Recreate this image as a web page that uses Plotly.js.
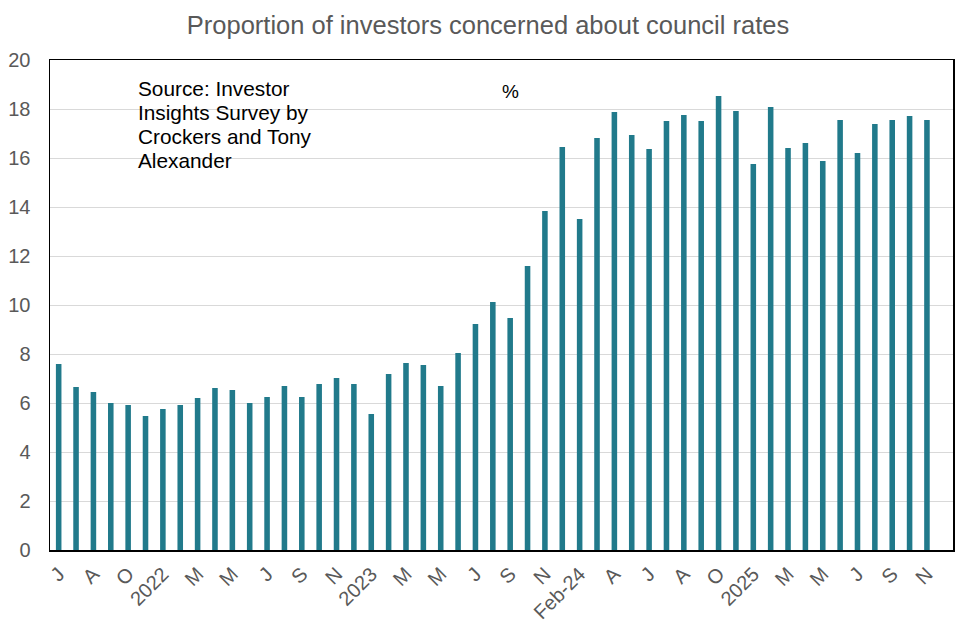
<!DOCTYPE html>
<html>
<head>
<meta charset="utf-8">
<script src="https://cdn.plot.ly/plotly-3.0.1.min.js"></script>
<style>html,body{margin:0;padding:0;background:#fff;}#chart{width:976px;height:637px;}</style>
</head>
<body>
<div id="chart"></div>
<script>
const months = [
  "Jun-21","Jul-21","Aug-21","Sep-21","Oct-21","Nov-21",
  "Jan-22","Feb-22","Mar-22","Apr-22","May-22","Jun-22","Jul-22","Aug-22","Sep-22","Oct-22","Nov-22","Dec-22",
  "Jan-23","Feb-23","Mar-23","Apr-23","May-23","Jun-23","Jul-23","Aug-23","Sep-23","Oct-23","Nov-23","Dec-23",
  "Feb-24","Mar-24","Apr-24","May-24","Jun-24","Jul-24","Aug-24","Sep-24","Oct-24","Nov-24",
  "Jan-25","Feb-25","Mar-25","Apr-25","May-25","Jun-25","Jul-25","Aug-25","Sep-25","Oct-25","Nov-25"
];
const concerned = [
  7.59, 6.65, 6.45, 6.0, 5.92, 5.47,
  5.76, 5.92, 6.2, 6.61, 6.53, 6.0, 6.25, 6.69, 6.25, 6.78, 7.02, 6.78,
  5.55, 7.18, 7.63, 7.55, 6.69, 8.04, 9.22, 10.12, 9.47, 11.59, 13.84, 16.45,
  13.51, 16.82, 17.88, 16.94, 16.37, 17.51, 17.76, 17.51, 18.53, 17.92,
  15.76, 18.08, 16.41, 16.61, 15.88, 17.55, 16.2, 17.39, 17.55, 17.71, 17.55
];
const tickLabels = ["J","A","O","2022","M","M","J","S","N","2023","M","M","J","S","N","Feb-24","A","J","A","O","2025","M","M","J","S","N"];
const sourceLines = ["Source: Investor","Insights Survey by","Crockers and Tony","Alexander"];
const tickPositions = months.filter((m, i) => i % 2 === 0);

const FONT = "Liberation Sans, Arial, sans-serif";

const trace = {
  type: "bar",
  x: months,
  y: concerned,
  marker: {color: "#217A8B"},
  hoverinfo: "x+y"
};

const annotations = sourceLines.map((t, i) => ({
  xref: "paper", yref: "paper", x: 0.095, y: 0.942, xanchor: "left", yanchor: "middle",
  yshift: -24 * i, align: "left", showarrow: false, text: t,
  font: {family: FONT, size: 20.8, color: "#000"}
}));
annotations.push({
  xref: "paper", yref: "paper", x: 0.51, y: 0.935, xanchor: "center", yanchor: "middle",
  showarrow: false, text: "%",
  font: {family: FONT, size: 19, color: "#000"}
});

const layout = {
  width: 976, height: 637,
  margin: {l: 50, r: 23, t: 60, b: 87},
  paper_bgcolor: "#fff", plot_bgcolor: "#fff",
  bargap: 0.68,
  showlegend: false,
  title: {
    text: "Proportion of investors concerned about council rates",
    font: {family: FONT, size: 25.5, color: "#595959"},
    x: 0.5, xanchor: "center", y: 0.96, yanchor: "middle"
  },
  font: {family: FONT},
  xaxis: {
    type: "category",
    range: [-0.5, months.length + 0.5],
    tickmode: "array",
    tickvals: tickPositions,
    ticktext: tickLabels,
    tickangle: -45,
    tickfont: {size: 20, color: "#595959"},
    showgrid: false,
    showline: true, linecolor: "#000", linewidth: 1.5, mirror: true,
    ticks: "",
    ticklabelstandoff: 3
  },
  yaxis: {
    range: [0, 20],
    dtick: 2,
    tickfont: {size: 20, color: "#595959"},
    showgrid: true, gridcolor: "#d9d9d9", gridwidth: 1,
    showline: true, linecolor: "#000", linewidth: 1.5, mirror: true,
    zeroline: false,
    ticks: "",
    ticklabelstandoff: 14
  },
  annotations: annotations
};

Plotly.newPlot("chart", [trace], layout, {displayModeBar: false, staticPlot: true});
</script>
</body>
</html>
